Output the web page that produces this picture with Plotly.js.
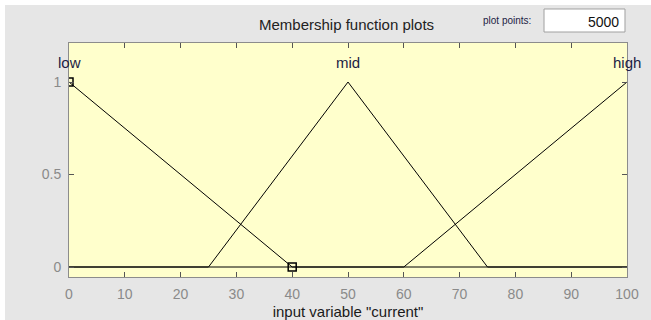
<!DOCTYPE html>
<html>
<head>
<meta charset="utf-8">
<script src="https://cdn.plot.ly/plotly-3.0.1.min.js"></script>
<style>
  html, body { margin: 0; padding: 0; background: #ffffff; }
  #chart { position: absolute; left: 5px; top: 5px; width: 646px; height: 315px; }
</style>
</head>
<body>
<div id="chart"></div>
<script>
// Membership functions of the input variable "current" (universe 0..100)
const mfNames = ["low", "mid", "high"];
const lowX = [0, 40, 100];
const lowY = [1, 0, 0];
const midX = [0, 25, 50, 75, 100];
const midY = [0, 0, 1, 0, 0];
const highX = [0, 60, 100];
const highY = [0, 0, 1];
// vertices of the currently selected function ("low")
const handleX = [0, 40];
const handleY = [1, 0];
// peak position of each function, where its name is written
const peakX = [0, 50, 100];
const labelY = 1.108;

const xTicks = [0, 10, 20, 30, 40, 50, 60, 70, 80, 90, 100];
const yTicks = [0, 0.5, 1];
const plotPoints = 5000;

const lineStyle = { color: "#000000", width: 1 };
const traces = [
  { x: lowX, y: lowY, mode: "lines", line: lineStyle, name: mfNames[0], hoverinfo: "skip" },
  { x: midX, y: midY, mode: "lines", line: lineStyle, name: mfNames[1], hoverinfo: "skip" },
  { x: highX, y: highY, mode: "lines", line: lineStyle, name: mfNames[2], hoverinfo: "skip" },
  { x: handleX, y: handleY, mode: "markers", name: "handles", hoverinfo: "skip",
    marker: { symbol: "square-open", size: 8, color: "#000000", line: { width: 1.5, color: "#000000" } } }
];

const font = "Liberation Sans, Arial, sans-serif";
const tickFont = { family: font, size: 14, color: "#8a8a8a" };
const labelColor = "#1c1c44";

const annotations = peakX.map((px, i) => ({
  x: px, y: labelY, xref: "x", yref: "y", text: mfNames[i], showarrow: false,
  font: { family: font, size: 15, color: labelColor }, xanchor: "center", yanchor: "middle"
}));
annotations.push(
  { x: 0.498, y: 1.08, xref: "paper", yref: "paper", text: "Membership function plots", showarrow: false,
    font: { family: font, size: 15, color: "#222222" }, xanchor: "center", yanchor: "middle" },
  { x: 0.785, y: 1.095, xref: "paper", yref: "paper", text: "plot points:", showarrow: false,
    font: { family: font, size: 10, color: labelColor }, xanchor: "center", yanchor: "middle" },
  { x: 0.9892, y: 1.09, xref: "paper", yref: "paper", text: String(plotPoints), showarrow: false,
    font: { family: font, size: 14, color: "#111111" }, xanchor: "right", yanchor: "middle" }
);

const layout = {
  width: 646, height: 315,
  margin: { l: 64, r: 24, t: 38, b: 43, pad: 0 },
  paper_bgcolor: "#e6e6e6",
  plot_bgcolor: "#ffffcc",
  showlegend: false,
  xaxis: {
    range: [0, 100], tickvals: xTicks, ticktext: xTicks.map(String),
    ticks: "inside", ticklen: 5, tickcolor: "#555555", tickwidth: 1,
    showline: true, linecolor: "#8c8c8c", linewidth: 1, mirror: "ticks",
    showgrid: false, zeroline: false, tickfont: tickFont, ticklabelstandoff: 4,
    title: { text: 'input variable "current"', font: { family: font, size: 15, color: "#1a1a1a" }, standoff: 6 },
    automargin: false, fixedrange: true
  },
  yaxis: {
    range: [-0.054, 1.211], tickvals: yTicks, ticktext: ["0", "0.5", "1"],
    ticks: "inside", ticklen: 5, tickcolor: "#555555", tickwidth: 1,
    showline: true, linecolor: "#8c8c8c", linewidth: 1, mirror: "ticks",
    showgrid: false, zeroline: false, tickfont: tickFont, ticklabelstandoff: 4,
    automargin: false, fixedrange: true
  },
  shapes: [
    { type: "rect", xref: "paper", yref: "paper", x0: 0.8513, x1: 0.9964, y0: 1.047, y1: 1.1453,
      fillcolor: "#ffffff", line: { color: "#a0a0a0", width: 1 }, layer: "above" }
  ],
  annotations: annotations
};

Plotly.newPlot("chart", traces, layout, { staticPlot: true, displayModeBar: false });
</script>
</body>
</html>
